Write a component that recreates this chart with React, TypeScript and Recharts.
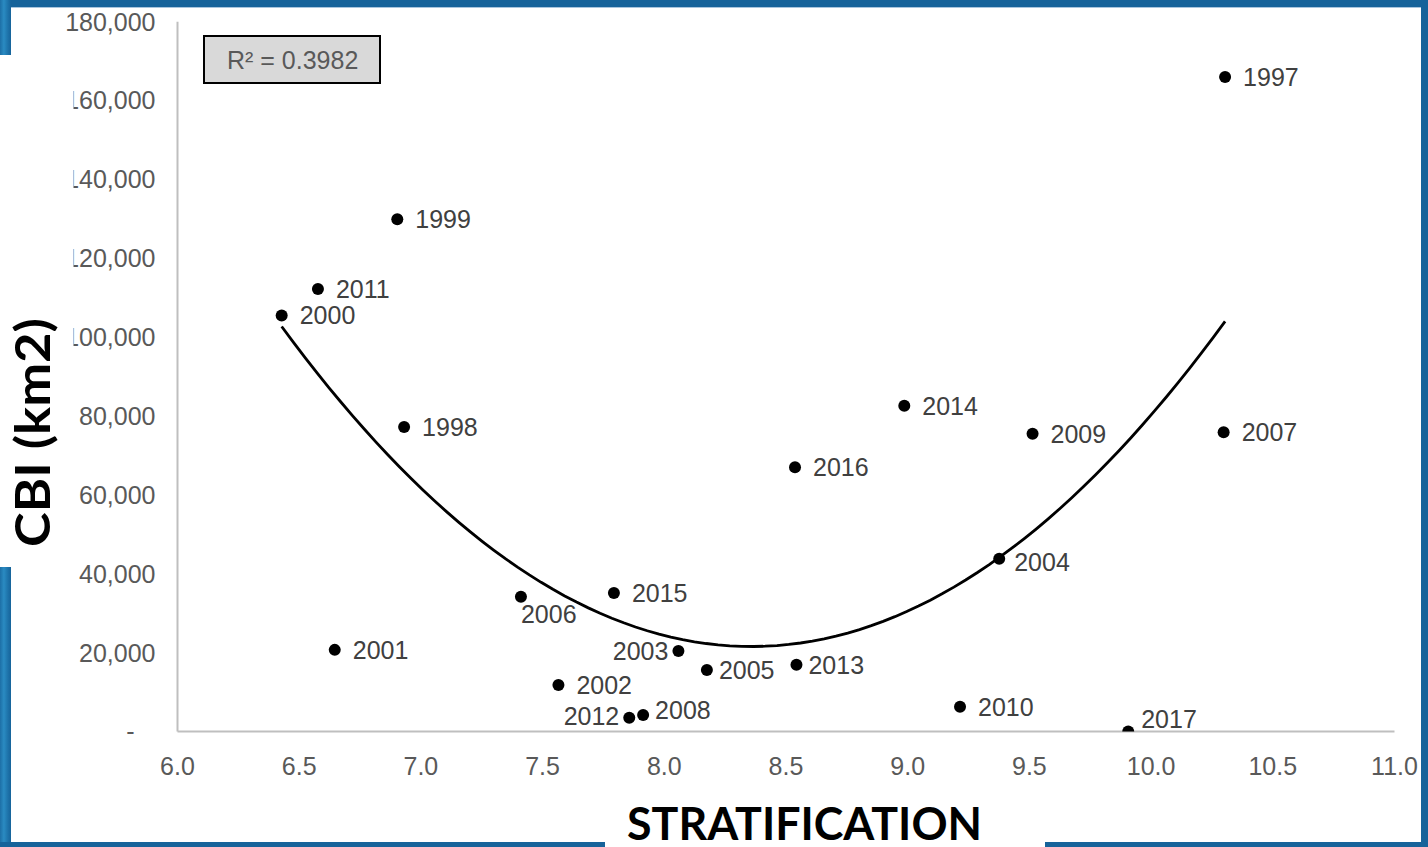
import { Scatter, ScatterChart, XAxis, YAxis } from "recharts";

// CBI area vs. stratification index, one point per year
const years = [
  1997, 1998, 1999, 2000, 2001, 2002, 2003, 2004, 2005, 2006, 2007, 2008,
  2009, 2010, 2011, 2012, 2013, 2014, 2015, 2016, 2017,
];
const stratification = [
  10.304, 6.931, 6.903, 6.428, 6.646, 7.565, 8.058, 9.376, 8.175, 7.411,
  10.298, 7.913, 9.513, 9.215, 6.577, 7.856, 8.543, 8.986, 7.793, 8.537, 9.906,
];
const cbi = [
  166000, 77200, 129900, 105500, 20700, 11800, 20400, 43800, 15600, 34200,
  75900, 4200, 75500, 6300, 112200, 3500, 16900, 82600, 35100, 67000, 0,
];

const xTicks = [6, 6.5, 7, 7.5, 8, 8.5, 9, 9.5, 10, 10.5, 11];
const yTicks = [0, 20000, 40000, 60000, 80000, 100000, 120000, 140000, 160000, 180000];

const points = years.map((year, i) => ({ year, x: stratification[i], y: cbi[i] }));

// label placement tweaks for crowded points (default: right of the dot)
const labelPlacement: Record<number, { dx: number; dy: number; anchor?: "start" | "end" }> = {
  2006: { dx: 0, dy: 17 },
  2003: { dx: -10, dy: 0, anchor: "end" },
  2012: { dx: -10, dy: -2, anchor: "end" },
  2008: { dx: 12, dy: -5 },
  2005: { dx: 12, dy: 0 },
  2013: { dx: 12, dy: 0 },
  2017: { dx: 13, dy: -13 },
  2004: { dx: 15, dy: 3 },
};

// 2nd order polynomial least-squares fit (same as the spreadsheet trendline)
function polyFit2(xs: number[], ys: number[]) {
  let s0 = 0, s1 = 0, s2 = 0, s3 = 0, s4 = 0, t0 = 0, t1 = 0, t2 = 0;
  xs.forEach((x, i) => {
    const y = ys[i];
    s0 += 1; s1 += x; s2 += x * x; s3 += x * x * x; s4 += x * x * x * x;
    t0 += y; t1 += x * y; t2 += x * x * y;
  });
  const det = (m: number[][]) =>
    m[0][0] * (m[1][1] * m[2][2] - m[1][2] * m[2][1]) -
    m[0][1] * (m[1][0] * m[2][2] - m[1][2] * m[2][0]) +
    m[0][2] * (m[1][0] * m[2][1] - m[1][1] * m[2][0]);
  const A = [[s0, s1, s2], [s1, s2, s3], [s2, s3, s4]];
  const b = [t0, t1, t2];
  const d = det(A);
  const coef = [0, 1, 2].map((c) => det(A.map((row, r) => row.map((v, k) => (k === c ? b[r] : v)))) / d);
  return (x: number) => coef[0] + coef[1] * x + coef[2] * x * x;
}

const fit = polyFit2(stratification, cbi);
const xMin = Math.min(...stratification);
const xMax = Math.max(...stratification);
const trend = Array.from({ length: 81 }, (_, i) => {
  const x = xMin + ((xMax - xMin) * i) / 80;
  return { x, y: fit(x) };
});

const tickFont = "'Liberation Sans', Arial, sans-serif";
const titleFont = "Lato, 'Open Sans', sans-serif";

function YearDot(props: any) {
  const { cx, cy, payload } = props;
  const p = labelPlacement[payload.year] ?? { dx: 18, dy: 0 };
  return (
    <g>
      <circle cx={cx} cy={cy} r={6} fill="#000" />
      <text
        x={cx + p.dx}
        y={cy + p.dy + 9}
        textAnchor={p.anchor ?? "start"}
        fontSize={25}
        fontFamily={tickFont}
        fill="#404040"
      >
        {payload.year}
      </text>
    </g>
  );
}

function NoDot() {
  return <g />;
}

function YTick(props: any) {
  const { x, y, payload } = props;
  const zero = payload.value === 0;
  return (
    <text
      x={zero ? x - 21 : x}
      y={y}
      dy="0.355em"
      textAnchor="end"
      fontSize={25}
      fontFamily={tickFont}
      fill="#595959"
    >
      {zero ? "-" : payload.value.toLocaleString("en-US")}
    </text>
  );
}

function Frame() {
  const blue = "#16639a";
  return (
    <svg
      width={1428}
      height={847}
      style={{ position: "absolute", left: 0, top: 0, pointerEvents: "none" }}
    >
      <defs>
        <linearGradient id="leftEdge" x1="0" x2="1" y1="0" y2="0">
          <stop offset="0" stopColor="#1d6fa6" />
          <stop offset="0.35" stopColor="#2a8bc2" />
          <stop offset="0.7" stopColor="#1e74ab" />
          <stop offset="1" stopColor={blue} />
        </linearGradient>
      </defs>
      <rect x={0} y={0} width={1428} height={7} fill={blue} />
      <rect x={0} y={7} width={1428} height={1} fill="#a8c5dd" />
      <rect x={0} y={0} width={11} height={847} fill="url(#leftEdge)" />
      <rect x={1421} y={0} width={7} height={847} fill={blue} />
      <rect x={0} y={842} width={1428} height={5} fill={blue} />

      {/* white backing behind the axis titles */}
      <rect x={0} y={55} width={73.5} height={512} fill="#fff" />
      <rect x={605} y={795} width={440} height={52} fill="#fff" />

      <text
        transform="translate(50 432.5) rotate(-90)"
        textAnchor="middle"
        fontSize={48}
        fontWeight={700}
        fontFamily={titleFont}
        fill="#000"
        textLength={229}
        lengthAdjust="spacingAndGlyphs"
      >
        CBI (km2)
      </text>
      <text
        x={627}
        y={840}
        fontSize={46}
        fontWeight={700}
        fontFamily={titleFont}
        fill="#000"
        textLength={355}
        lengthAdjust="spacingAndGlyphs"
      >
        STRATIFICATION
      </text>

      <rect x={204} y={36} width={176} height={47} fill="#d9d9d9" stroke="#000" strokeWidth={2} />
      <text x={227} y={68.5} fontSize={25} fontFamily={tickFont} fill="#595959">
        R² = 0.3982
      </text>
    </svg>
  );
}

export default function App() {
  return (
    <div
      style={{
        position: "absolute",
        left: 0,
        top: 0,
        width: 1428,
        height: 847,
        background: "#fff",
        overflow: "hidden",
      }}
    >
      <ScatterChart
        width={1428}
        height={847}
        margin={{ top: 21.7, right: 33.5, bottom: 0, left: 0 }}
      >
        <XAxis
          type="number"
          dataKey="x"
          domain={[6, 11]}
          ticks={xTicks}
          allowDataOverflow
          tickFormatter={(v: number) => v.toFixed(1)}
          height={115.5}
          tickSize={0}
          tickMargin={26}
          axisLine={{ stroke: "#bfbfbf", strokeWidth: 2 }}
          tick={{ fill: "#595959", fontSize: 25, fontFamily: tickFont }}
        />
        <YAxis
          type="number"
          dataKey="y"
          domain={[0, 180000]}
          ticks={yTicks}
          allowDataOverflow
          width={177.5}
          tickSize={0}
          tickMargin={22}
          axisLine={{ stroke: "#bfbfbf", strokeWidth: 2 }}
          tick={<YTick />}
        />
        <Scatter
          data={trend}
          line={{ stroke: "#000", strokeWidth: 2.8 }}
          shape={<NoDot />}
          isAnimationActive={false}
        />
        <Scatter data={points} shape={<YearDot />} isAnimationActive={false} />
      </ScatterChart>
      <Frame />
    </div>
  );
}
